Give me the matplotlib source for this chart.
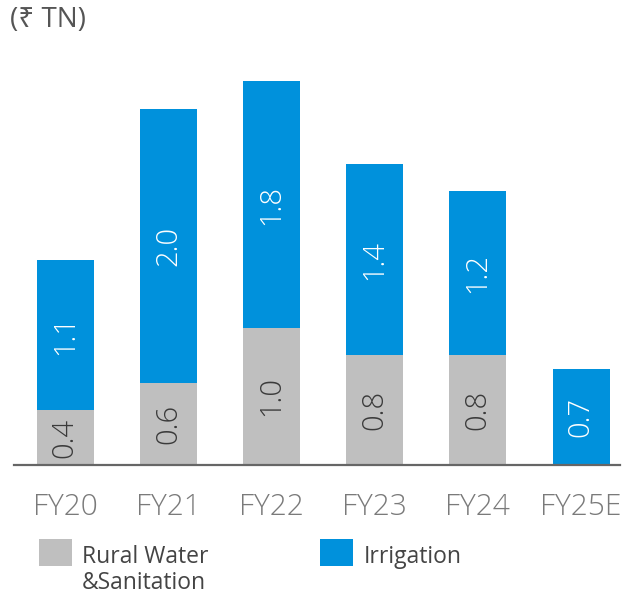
import matplotlib
matplotlib.use("Agg")
import matplotlib.pyplot as plt
from matplotlib.patches import Rectangle

plt.rcParams['font.family'] = ['Open Sans', 'Noto Sans', 'DejaVu Sans']

categories = ["FY20", "FY21", "FY22", "FY23", "FY24", "FY25E"]
rural = [0.4, 0.6, 1.0, 0.8, 0.8, 0.0]
irrigation = [1.1, 2.0, 1.8, 1.4, 1.2, 0.7]
series_names = ["Rural Water\n&Sanitation", "Irrigation"]
unit_label = "(₹ TN)"

GRAY = "#BFBFBF"
BLUE = "#0091DC"

W, H = 624, 595
fig = plt.figure(figsize=(W / 100, H / 100), dpi=100)

px_per_unit = 137.0
base_y = 465
ymax = 2.95
ax_h = ymax * px_per_unit
left_px, right_px = 14, 620
c0, c5 = 65, 581
step = (c5 - c0) / 5
ax = fig.add_axes([left_px / W, (H - base_y) / H, (right_px - left_px) / W, ax_h / H])
ax.set_xlim(-(c0 - left_px) / step, 5 + (right_px - c5) / step)
ax.set_ylim(0, ymax)

x = list(range(len(categories)))
bw = 57 / step
ax.bar(x, rural, width=bw, color=GRAY, edgecolor='none')
ax.bar(x, irrigation, width=bw, bottom=rural, color=BLUE, edgecolor='none')

for i in x:
    if rural[i] > 0:
        ax.text(i, rural[i] / 2, f"{rural[i]:.1f}", rotation=90, ha='center', va='center',
                color='#3a3a3a', fontsize=21, fontweight='light')
    ax.text(i, rural[i] + irrigation[i] / 2, f"{irrigation[i]:.1f}", rotation=90,
            ha='center', va='center', color='white', fontsize=21, fontweight='light')

for s in ['top', 'right', 'left']:
    ax.spines[s].set_visible(False)
ax.spines['bottom'].set_color('#666666')
ax.spines['bottom'].set_linewidth(1.6)
ax.set_yticks([])
ax.set_xticks(x)
ax.set_xticklabels(categories, fontsize=21.5, color='#7a7a7a', fontweight='light')
ax.tick_params(axis='x', length=0, pad=20)

fig.text(10 / W, 1 - 27 / H, unit_label, fontsize=20, color='#555555', va='baseline', ha='left')

# legend
leg_items = [(39, GRAY, 82), (320, BLUE, 364)]
for (sx, col, tx), name in zip(leg_items, series_names):
    fig.patches.append(Rectangle((sx / W, 1 - 566 / H), 33 / W, 27 / H, transform=fig.transFigure,
                                 facecolor=col, edgecolor='none'))
    fig.text(tx / W, 1 - 545 / H, name, fontsize=16.5, color='#444444', va='top', ha='left',
             linespacing=1.12)

fig.savefig("out.png", dpi=100)
